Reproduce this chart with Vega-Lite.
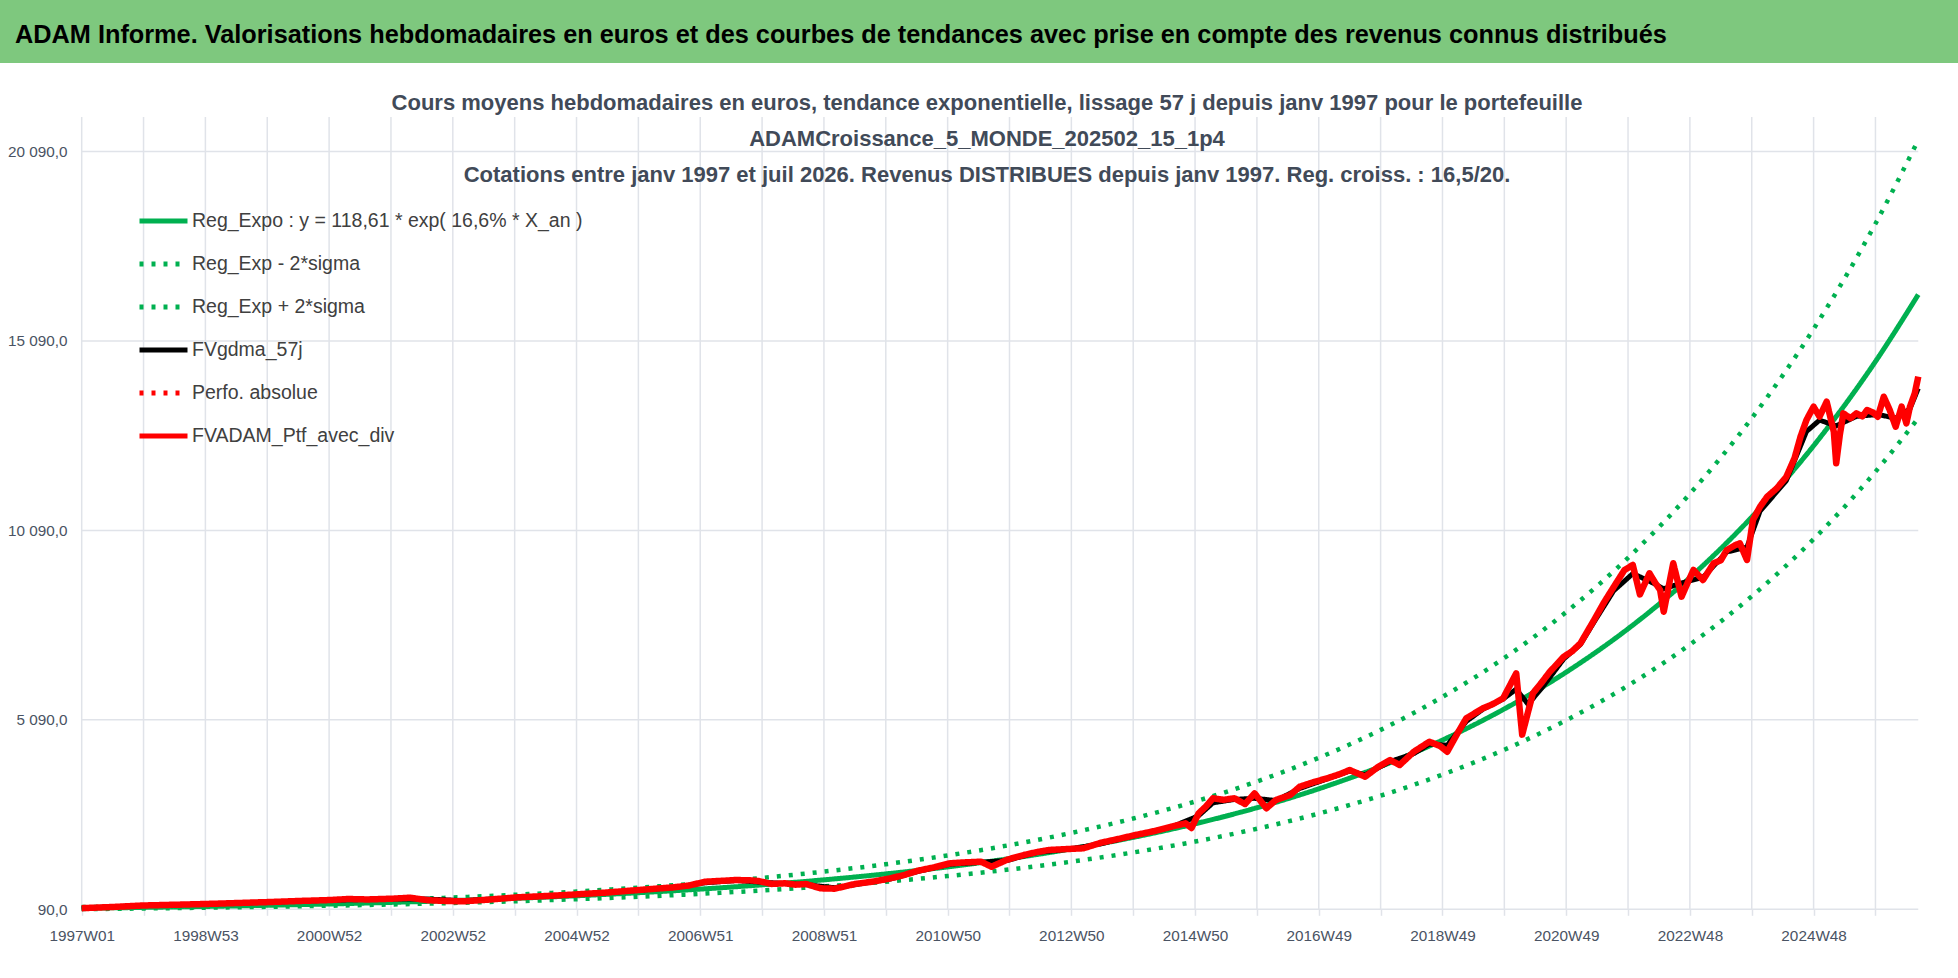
{
  "$schema": "https://vega.github.io/schema/vega-lite/v6.json",
  "padding": 0,
  "spacing": 0,
  "bounds": "flush",
  "background": "#ffffff",
  "config": {
    "font": "Liberation Sans",
    "view": {"stroke": null},
    "axis": {"labelFont": "Liberation Sans", "grid": false, "domain": false},
    "legend": {"labelFont": "Liberation Sans"}
  },
  "datasets": {
    "grilleY": [{"valeur": 90}, {"valeur": 5090}, {"valeur": 10090}, {"valeur": 15090}, {"valeur": 20090}],
    "grilleX": [
      {"semaine": 0}, {"semaine": 52}, {"semaine": 104}, {"semaine": 156}, {"semaine": 208}, {"semaine": 260},
      {"semaine": 312}, {"semaine": 364}, {"semaine": 416}, {"semaine": 468}, {"semaine": 520}, {"semaine": 572},
      {"semaine": 624}, {"semaine": 676}, {"semaine": 728}, {"semaine": 780}, {"semaine": 832}, {"semaine": 884},
      {"semaine": 936}, {"semaine": 988}, {"semaine": 1040}, {"semaine": 1092}, {"semaine": 1144}, {"semaine": 1196},
      {"semaine": 1248}, {"semaine": 1300}, {"semaine": 1352}, {"semaine": 1404}, {"semaine": 1456}, {"semaine": 1508}
    ],
    "series": [
      {"serie": "reg", "semaine": 0, "valeur": 118.6}, {"serie": "reg", "semaine": 52, "valeur": 140.0},
      {"serie": "reg", "semaine": 104, "valeur": 165.3}, {"serie": "reg", "semaine": 156, "valeur": 195.1},
      {"serie": "reg", "semaine": 208, "valeur": 230.3}, {"serie": "reg", "semaine": 260, "valeur": 271.8},
      {"serie": "reg", "semaine": 312, "valeur": 320.8}, {"serie": "reg", "semaine": 364, "valeur": 378.7},
      {"serie": "reg", "semaine": 416, "valeur": 447.0}, {"serie": "reg", "semaine": 468, "valeur": 527.6},
      {"serie": "reg", "semaine": 520, "valeur": 622.8}, {"serie": "reg", "semaine": 572, "valeur": 735.2},
      {"serie": "reg", "semaine": 624, "valeur": 867.8}, {"serie": "reg", "semaine": 676, "valeur": 1024.3},
      {"serie": "reg", "semaine": 728, "valeur": 1209.1}, {"serie": "reg", "semaine": 780, "valeur": 1427.2},
      {"serie": "reg", "semaine": 832, "valeur": 1684.6}, {"serie": "reg", "semaine": 884, "valeur": 1988.5},
      {"serie": "reg", "semaine": 936, "valeur": 2347.2}, {"serie": "reg", "semaine": 988, "valeur": 2770.6},
      {"serie": "reg", "semaine": 1040, "valeur": 3270.4}, {"serie": "reg", "semaine": 1092, "valeur": 3860.3},
      {"serie": "reg", "semaine": 1144, "valeur": 4556.6}, {"serie": "reg", "semaine": 1196, "valeur": 5378.5},
      {"serie": "reg", "semaine": 1248, "valeur": 6348.7}, {"serie": "reg", "semaine": 1300, "valeur": 7493.9},
      {"serie": "reg", "semaine": 1352, "valeur": 8845.6}, {"serie": "reg", "semaine": 1404, "valeur": 10441.1},
      {"serie": "reg", "semaine": 1456, "valeur": 12324.5}, {"serie": "reg", "semaine": 1508, "valeur": 14547.6},
      {"serie": "reg", "semaine": 1544, "valeur": 16314},
      {"serie": "moins", "semaine": 0, "valeur": 94.9}, {"serie": "moins", "semaine": 52, "valeur": 112.0},
      {"serie": "moins", "semaine": 104, "valeur": 132.2}, {"serie": "moins", "semaine": 156, "valeur": 156.1},
      {"serie": "moins", "semaine": 208, "valeur": 184.2}, {"serie": "moins", "semaine": 260, "valeur": 217.4},
      {"serie": "moins", "semaine": 312, "valeur": 256.6}, {"serie": "moins", "semaine": 364, "valeur": 303.0},
      {"serie": "moins", "semaine": 416, "valeur": 357.6}, {"serie": "moins", "semaine": 468, "valeur": 422.1},
      {"serie": "moins", "semaine": 520, "valeur": 498.2}, {"serie": "moins", "semaine": 572, "valeur": 588.2},
      {"serie": "moins", "semaine": 624, "valeur": 694.2}, {"serie": "moins", "semaine": 676, "valeur": 819.4},
      {"serie": "moins", "semaine": 728, "valeur": 967.3}, {"serie": "moins", "semaine": 780, "valeur": 1141.8},
      {"serie": "moins", "semaine": 832, "valeur": 1347.7}, {"serie": "moins", "semaine": 884, "valeur": 1590.8},
      {"serie": "moins", "semaine": 936, "valeur": 1877.8}, {"serie": "moins", "semaine": 988, "valeur": 2216.5},
      {"serie": "moins", "semaine": 1040, "valeur": 2616.3}, {"serie": "moins", "semaine": 1092, "valeur": 3088.2},
      {"serie": "moins", "semaine": 1144, "valeur": 3645.3}, {"serie": "moins", "semaine": 1196, "valeur": 4302.8},
      {"serie": "moins", "semaine": 1248, "valeur": 5079.0}, {"serie": "moins", "semaine": 1300, "valeur": 5995.1},
      {"serie": "moins", "semaine": 1352, "valeur": 7076.5}, {"serie": "moins", "semaine": 1404, "valeur": 8352.9},
      {"serie": "moins", "semaine": 1456, "valeur": 9859.6}, {"serie": "moins", "semaine": 1508, "valeur": 11638.1},
      {"serie": "moins", "semaine": 1544, "valeur": 13051},
      {"serie": "plus", "semaine": 0, "valeur": 148.3}, {"serie": "plus", "semaine": 52, "valeur": 175.0},
      {"serie": "plus", "semaine": 104, "valeur": 206.6}, {"serie": "plus", "semaine": 156, "valeur": 243.9},
      {"serie": "plus", "semaine": 208, "valeur": 287.9}, {"serie": "plus", "semaine": 260, "valeur": 339.8},
      {"serie": "plus", "semaine": 312, "valeur": 401.0}, {"serie": "plus", "semaine": 364, "valeur": 473.4},
      {"serie": "plus", "semaine": 416, "valeur": 558.8}, {"serie": "plus", "semaine": 468, "valeur": 659.5},
      {"serie": "plus", "semaine": 520, "valeur": 778.5}, {"serie": "plus", "semaine": 572, "valeur": 919.0},
      {"serie": "plus", "semaine": 624, "valeur": 1084.8}, {"serie": "plus", "semaine": 676, "valeur": 1280.4},
      {"serie": "plus", "semaine": 728, "valeur": 1511.4}, {"serie": "plus", "semaine": 780, "valeur": 1784.0},
      {"serie": "plus", "semaine": 832, "valeur": 2105.8}, {"serie": "plus", "semaine": 884, "valeur": 2485.6},
      {"serie": "plus", "semaine": 936, "valeur": 2934.0}, {"serie": "plus", "semaine": 988, "valeur": 3463.3},
      {"serie": "plus", "semaine": 1040, "valeur": 4088.0}, {"serie": "plus", "semaine": 1092, "valeur": 4825.4},
      {"serie": "plus", "semaine": 1144, "valeur": 5695.8}, {"serie": "plus", "semaine": 1196, "valeur": 6723.1},
      {"serie": "plus", "semaine": 1248, "valeur": 7935.9}, {"serie": "plus", "semaine": 1300, "valeur": 9367.4},
      {"serie": "plus", "semaine": 1352, "valeur": 11057.0}, {"serie": "plus", "semaine": 1404, "valeur": 13051.4},
      {"serie": "plus", "semaine": 1456, "valeur": 15405.6}, {"serie": "plus", "semaine": 1508, "valeur": 18184.5},
      {"serie": "plus", "semaine": 1544, "valeur": 20392},
      {"serie": "gdma", "semaine": 0, "valeur": 120}, {"serie": "gdma", "semaine": 52, "valeur": 190},
      {"serie": "gdma", "semaine": 104, "valeur": 228}, {"serie": "gdma", "semaine": 156, "valeur": 278},
      {"serie": "gdma", "semaine": 209, "valeur": 330}, {"serie": "gdma", "semaine": 261, "valeur": 365},
      {"serie": "gdma", "semaine": 291, "valeur": 360}, {"serie": "gdma", "semaine": 321, "valeur": 318},
      {"serie": "gdma", "semaine": 366, "valeur": 400}, {"serie": "gdma", "semaine": 411, "valeur": 470},
      {"serie": "gdma", "semaine": 468, "valeur": 590}, {"serie": "gdma", "semaine": 498, "valeur": 665},
      {"serie": "gdma", "semaine": 524, "valeur": 790}, {"serie": "gdma", "semaine": 550, "valeur": 850},
      {"serie": "gdma", "semaine": 580, "valeur": 790}, {"serie": "gdma", "semaine": 609, "valeur": 740},
      {"serie": "gdma", "semaine": 633, "valeur": 660}, {"serie": "gdma", "semaine": 650, "valeur": 740},
      {"serie": "gdma", "semaine": 680, "valeur": 890}, {"serie": "gdma", "semaine": 703, "valeur": 1090},
      {"serie": "gdma", "semaine": 730, "valeur": 1280}, {"serie": "gdma", "semaine": 756, "valeur": 1330},
      {"serie": "gdma", "semaine": 778, "valeur": 1380}, {"serie": "gdma", "semaine": 803, "valeur": 1590},
      {"serie": "gdma", "semaine": 828, "valeur": 1670}, {"serie": "gdma", "semaine": 857, "valeur": 1820},
      {"serie": "gdma", "semaine": 886, "valeur": 2040}, {"serie": "gdma", "semaine": 916, "valeur": 2260},
      {"serie": "gdma", "semaine": 939, "valeur": 2560}, {"serie": "gdma", "semaine": 951, "valeur": 2900},
      {"serie": "gdma", "semaine": 969, "valeur": 2990}, {"serie": "gdma", "semaine": 986, "valeur": 3020},
      {"serie": "gdma", "semaine": 1004, "valeur": 2960}, {"serie": "gdma", "semaine": 1024, "valeur": 3280},
      {"serie": "gdma", "semaine": 1047, "valeur": 3530}, {"serie": "gdma", "semaine": 1066, "valeur": 3740},
      {"serie": "gdma", "semaine": 1079, "valeur": 3640}, {"serie": "gdma", "semaine": 1100, "valeur": 3990},
      {"serie": "gdma", "semaine": 1120, "valeur": 4200}, {"serie": "gdma", "semaine": 1133, "valeur": 4450},
      {"serie": "gdma", "semaine": 1148, "valeur": 4420}, {"serie": "gdma", "semaine": 1164, "valeur": 5050},
      {"serie": "gdma", "semaine": 1178, "valeur": 5370}, {"serie": "gdma", "semaine": 1195, "valeur": 5640},
      {"serie": "gdma", "semaine": 1206, "valeur": 5900}, {"serie": "gdma", "semaine": 1216, "valeur": 5500},
      {"serie": "gdma", "semaine": 1228, "valeur": 5950}, {"serie": "gdma", "semaine": 1246, "valeur": 6700},
      {"serie": "gdma", "semaine": 1260, "valeur": 7080}, {"serie": "gdma", "semaine": 1271, "valeur": 7650},
      {"serie": "gdma", "semaine": 1288, "valeur": 8500}, {"serie": "gdma", "semaine": 1304, "valeur": 8950},
      {"serie": "gdma", "semaine": 1318, "valeur": 8750}, {"serie": "gdma", "semaine": 1330, "valeur": 8550},
      {"serie": "gdma", "semaine": 1345, "valeur": 8700}, {"serie": "gdma", "semaine": 1363, "valeur": 8850},
      {"serie": "gdma", "semaine": 1383, "valeur": 9520}, {"serie": "gdma", "semaine": 1400, "valeur": 9650},
      {"serie": "gdma", "semaine": 1411, "valeur": 10600}, {"serie": "gdma", "semaine": 1433, "valeur": 11400},
      {"serie": "gdma", "semaine": 1450, "valeur": 12700}, {"serie": "gdma", "semaine": 1461, "valeur": 13000},
      {"serie": "gdma", "semaine": 1475, "valeur": 12850}, {"serie": "gdma", "semaine": 1492, "valeur": 13100},
      {"serie": "gdma", "semaine": 1510, "valeur": 13150}, {"serie": "gdma", "semaine": 1525, "valeur": 13050},
      {"serie": "gdma", "semaine": 1537, "valeur": 13300}, {"serie": "gdma", "semaine": 1544, "valeur": 13840},
      {"serie": "ptf", "semaine": 0, "valeur": 120}, {"serie": "ptf", "semaine": 25, "valeur": 150},
      {"serie": "ptf", "semaine": 51, "valeur": 190}, {"serie": "ptf", "semaine": 78, "valeur": 210},
      {"serie": "ptf", "semaine": 104, "valeur": 230}, {"serie": "ptf", "semaine": 130, "valeur": 255},
      {"serie": "ptf", "semaine": 156, "valeur": 280}, {"serie": "ptf", "semaine": 183, "valeur": 310},
      {"serie": "ptf", "semaine": 209, "valeur": 335}, {"serie": "ptf", "semaine": 224, "valeur": 362},
      {"serie": "ptf", "semaine": 240, "valeur": 350}, {"serie": "ptf", "semaine": 261, "valeur": 370},
      {"serie": "ptf", "semaine": 276, "valeur": 396}, {"serie": "ptf", "semaine": 291, "valeur": 330},
      {"serie": "ptf", "semaine": 306, "valeur": 310}, {"serie": "ptf", "semaine": 321, "valeur": 300},
      {"serie": "ptf", "semaine": 344, "valeur": 350}, {"serie": "ptf", "semaine": 366, "valeur": 406},
      {"serie": "ptf", "semaine": 390, "valeur": 440}, {"serie": "ptf", "semaine": 411, "valeur": 475},
      {"serie": "ptf", "semaine": 440, "valeur": 530}, {"serie": "ptf", "semaine": 468, "valeur": 599},
      {"serie": "ptf", "semaine": 498, "valeur": 671}, {"serie": "ptf", "semaine": 511, "valeur": 720},
      {"serie": "ptf", "semaine": 524, "valeur": 818}, {"serie": "ptf", "semaine": 537, "valeur": 840},
      {"serie": "ptf", "semaine": 550, "valeur": 863}, {"serie": "ptf", "semaine": 562, "valeur": 855},
      {"serie": "ptf", "semaine": 569, "valeur": 837}, {"serie": "ptf", "semaine": 580, "valeur": 760},
      {"serie": "ptf", "semaine": 591, "valeur": 776}, {"serie": "ptf", "semaine": 600, "valeur": 740},
      {"serie": "ptf", "semaine": 609, "valeur": 758}, {"serie": "ptf", "semaine": 621, "valeur": 644},
      {"serie": "ptf", "semaine": 633, "valeur": 634}, {"serie": "ptf", "semaine": 650, "valeur": 758},
      {"serie": "ptf", "semaine": 665, "valeur": 820}, {"serie": "ptf", "semaine": 680, "valeur": 908},
      {"serie": "ptf", "semaine": 692, "valeur": 1000}, {"serie": "ptf", "semaine": 703, "valeur": 1109},
      {"serie": "ptf", "semaine": 717, "valeur": 1200}, {"serie": "ptf", "semaine": 730, "valeur": 1304},
      {"serie": "ptf", "semaine": 743, "valeur": 1330}, {"serie": "ptf", "semaine": 756, "valeur": 1346},
      {"serie": "ptf", "semaine": 765, "valeur": 1214}, {"serie": "ptf", "semaine": 778, "valeur": 1400},
      {"serie": "ptf", "semaine": 792, "valeur": 1523}, {"serie": "ptf", "semaine": 803, "valeur": 1600},
      {"serie": "ptf", "semaine": 813, "valeur": 1655}, {"serie": "ptf", "semaine": 828, "valeur": 1680},
      {"serie": "ptf", "semaine": 842, "valeur": 1700}, {"serie": "ptf", "semaine": 857, "valeur": 1848},
      {"serie": "ptf", "semaine": 872, "valeur": 1950}, {"serie": "ptf", "semaine": 886, "valeur": 2051},
      {"serie": "ptf", "semaine": 901, "valeur": 2150}, {"serie": "ptf", "semaine": 916, "valeur": 2270},
      {"serie": "ptf", "semaine": 928, "valeur": 2360}, {"serie": "ptf", "semaine": 933, "valeur": 2236},
      {"serie": "ptf", "semaine": 939, "valeur": 2624}, {"serie": "ptf", "semaine": 945, "valeur": 2800},
      {"serie": "ptf", "semaine": 951, "valeur": 3020}, {"serie": "ptf", "semaine": 960, "valeur": 2980},
      {"serie": "ptf", "semaine": 969, "valeur": 3020}, {"serie": "ptf", "semaine": 978, "valeur": 2869},
      {"serie": "ptf", "semaine": 986, "valeur": 3151}, {"serie": "ptf", "semaine": 996, "valeur": 2756},
      {"serie": "ptf", "semaine": 1004, "valeur": 2975}, {"serie": "ptf", "semaine": 1016, "valeur": 3107},
      {"serie": "ptf", "semaine": 1024, "valeur": 3326}, {"serie": "ptf", "semaine": 1036, "valeur": 3450},
      {"serie": "ptf", "semaine": 1047, "valeur": 3547}, {"serie": "ptf", "semaine": 1057, "valeur": 3650},
      {"serie": "ptf", "semaine": 1066, "valeur": 3766}, {"serie": "ptf", "semaine": 1079, "valeur": 3590},
      {"serie": "ptf", "semaine": 1090, "valeur": 3850}, {"serie": "ptf", "semaine": 1100, "valeur": 4030},
      {"serie": "ptf", "semaine": 1108, "valeur": 3898}, {"serie": "ptf", "semaine": 1120, "valeur": 4250},
      {"serie": "ptf", "semaine": 1133, "valeur": 4513}, {"serie": "ptf", "semaine": 1142, "valeur": 4400},
      {"serie": "ptf", "semaine": 1148, "valeur": 4249}, {"serie": "ptf", "semaine": 1156, "valeur": 4700},
      {"serie": "ptf", "semaine": 1164, "valeur": 5131}, {"serie": "ptf", "semaine": 1178, "valeur": 5395},
      {"serie": "ptf", "semaine": 1186, "valeur": 5500}, {"serie": "ptf", "semaine": 1195, "valeur": 5659},
      {"serie": "ptf", "semaine": 1206, "valeur": 6319}, {"serie": "ptf", "semaine": 1211, "valeur": 4700},
      {"serie": "ptf", "semaine": 1220, "valeur": 5790}, {"serie": "ptf", "semaine": 1228, "valeur": 6100},
      {"serie": "ptf", "semaine": 1234, "valeur": 6350}, {"serie": "ptf", "semaine": 1246, "valeur": 6757},
      {"serie": "ptf", "semaine": 1253, "valeur": 6900}, {"serie": "ptf", "semaine": 1260, "valeur": 7110},
      {"serie": "ptf", "semaine": 1271, "valeur": 7700}, {"serie": "ptf", "semaine": 1280, "valeur": 8200},
      {"serie": "ptf", "semaine": 1288, "valeur": 8600}, {"serie": "ptf", "semaine": 1297, "valeur": 9045},
      {"serie": "ptf", "semaine": 1304, "valeur": 9177}, {"serie": "ptf", "semaine": 1310, "valeur": 8400},
      {"serie": "ptf", "semaine": 1318, "valeur": 8958}, {"serie": "ptf", "semaine": 1323, "valeur": 8700},
      {"serie": "ptf", "semaine": 1327, "valeur": 8517}, {"serie": "ptf", "semaine": 1330, "valeur": 7944},
      {"serie": "ptf", "semaine": 1338, "valeur": 9222}, {"serie": "ptf", "semaine": 1345, "valeur": 8340},
      {"serie": "ptf", "semaine": 1350, "valeur": 8700}, {"serie": "ptf", "semaine": 1355, "valeur": 9045},
      {"serie": "ptf", "semaine": 1363, "valeur": 8781}, {"serie": "ptf", "semaine": 1372, "valeur": 9222},
      {"serie": "ptf", "semaine": 1378, "valeur": 9300}, {"serie": "ptf", "semaine": 1383, "valeur": 9573},
      {"serie": "ptf", "semaine": 1390, "valeur": 9700}, {"serie": "ptf", "semaine": 1394, "valeur": 9749},
      {"serie": "ptf", "semaine": 1400, "valeur": 9309}, {"serie": "ptf", "semaine": 1405, "valeur": 10365},
      {"serie": "ptf", "semaine": 1411, "valeur": 10716}, {"serie": "ptf", "semaine": 1417, "valeur": 10980},
      {"serie": "ptf", "semaine": 1425, "valeur": 11200}, {"serie": "ptf", "semaine": 1433, "valeur": 11500},
      {"serie": "ptf", "semaine": 1440, "valeur": 12000}, {"serie": "ptf", "semaine": 1445, "valeur": 12563},
      {"serie": "ptf", "semaine": 1450, "valeur": 13004}, {"serie": "ptf", "semaine": 1456, "valeur": 13355},
      {"serie": "ptf", "semaine": 1461, "valeur": 13091}, {"serie": "ptf", "semaine": 1467, "valeur": 13487},
      {"serie": "ptf", "semaine": 1473, "valeur": 12695}, {"serie": "ptf", "semaine": 1475, "valeur": 11861},
      {"serie": "ptf", "semaine": 1478, "valeur": 12600}, {"serie": "ptf", "semaine": 1481, "valeur": 13179},
      {"serie": "ptf", "semaine": 1487, "valeur": 13050}, {"serie": "ptf", "semaine": 1492, "valeur": 13179},
      {"serie": "ptf", "semaine": 1497, "valeur": 13100}, {"serie": "ptf", "semaine": 1501, "valeur": 13268},
      {"serie": "ptf", "semaine": 1506, "valeur": 13200}, {"serie": "ptf", "semaine": 1510, "valeur": 13091},
      {"serie": "ptf", "semaine": 1515, "valeur": 13618}, {"serie": "ptf", "semaine": 1520, "valeur": 13268},
      {"serie": "ptf", "semaine": 1525, "valeur": 12827}, {"serie": "ptf", "semaine": 1530, "valeur": 13355},
      {"serie": "ptf", "semaine": 1534, "valeur": 12916}, {"serie": "ptf", "semaine": 1537, "valeur": 13355},
      {"serie": "ptf", "semaine": 1541, "valeur": 13700}, {"serie": "ptf", "semaine": 1544, "valeur": 14147}
    ]
  },
  "vconcat": [
    {
      "width": 1958,
      "height": 63,
      "view": {"fill": "#7ec87e", "stroke": null},
      "title": {
        "text": "ADAM Informe. Valorisations hebdomadaires en euros et des courbes de tendances avec prise en compte des revenus connus distribués",
        "orient": "top", "anchor": "start", "frame": "group", "offset": -68.5, "baseline": "alphabetic", "dx": 15,
        "font": "Liberation Sans", "fontSize": 25.3, "fontWeight": "bold", "color": "#000000"
      },
      "data": {"values": []},
      "mark": "rect"
    },
    {
      "width": 1958,
      "height": 915,
      "view": {"fill": "#ffffff", "stroke": null},
      "title": {
        "text": [
          "Cours moyens hebdomadaires  en euros, tendance exponentielle, lissage 57 j depuis janv 1997 pour le portefeuille",
          "ADAMCroissance_5_MONDE_202502_15_1p4",
          "Cotations entre janv 1997 et juil 2026. Revenus DISTRIBUES depuis janv 1997. Reg. croiss. : 16,5/20."
        ],
        "orient": "top", "anchor": "middle", "frame": "group", "offset": -123.5, "baseline": "top", "dx": 8,
        "lineHeight": 36, "font": "Liberation Sans", "fontSize": 22, "fontWeight": "bold", "color": "#414a58"
      },
      "layer": [
        {
          "data": {"name": "grilleY"},
          "mark": {"type": "rule", "color": "#e0e3e9", "strokeWidth": 1.5},
          "encoding": {
            "y": {
              "field": "valeur", "type": "quantitative",
              "scale": {"domain": [-1723, 22426], "nice": false, "zero": false},
              "axis": {
                "orient": "left", "offset": -82, "values": [90, 5090, 10090, 15090, 20090],
                "labelExpr": "replace(replace(format(datum.value, ',.1f'), ',', ' '), '.', ',')",
                "ticks": false, "tickSize": 0, "labelPadding": 15, "labelFontSize": 15.3, "labelColor": "#4a5363",
                "labelOverlap": false, "labelFlush": false, "title": null
              }
            },
            "x": {"datum": 0, "type": "quantitative", "title": null, "scale": {"domain": [-68.68, 1577.4], "nice": false, "zero": false}},
            "x2": {"datum": 1544}
          }
        },
        {
          "data": {"name": "grilleX"},
          "mark": {"type": "rule", "color": "#e0e3e9", "strokeWidth": 1.5},
          "encoding": {
            "x": {
              "field": "semaine", "type": "quantitative",
              "scale": {"domain": [-68.68, 1577.4], "nice": false, "zero": false},
              "axis": {
                "orient": "bottom", "offset": -68.7,
                "values": [0, 52, 104, 156, 208, 260, 312, 364, 416, 468, 520, 572, 624, 676, 728, 780, 832, 884, 936, 988, 1040, 1092, 1144, 1196, 1248, 1300, 1352, 1404, 1456, 1508],
                "labelExpr": "datum.value % 104 == 0 ? ['1997W01','1998W53','2000W52','2002W52','2004W52','2006W51','2008W51','2010W50','2012W50','2014W50','2016W49','2018W49','2020W49','2022W48','2024W48'][datum.value / 104] : ''",
                "ticks": true, "tickSize": 6, "tickColor": "#e0e3e9", "tickWidth": 1.5,
                "labelPadding": 13, "labelFontSize": 15.3, "labelColor": "#4a5363",
                "labelOverlap": false, "labelFlush": false, "title": null
              }
            },
            "y": {"datum": 90, "type": "quantitative", "title": null, "scale": {"domain": [-1723, 22426], "nice": false, "zero": false}},
            "y2": {"datum": 21000}
          }
        },
        {
          "data": {"name": "series"},
          "transform": [{"filter": {"field": "serie", "oneOf": ["moins", "plus"]}}],
          "mark": {"type": "line", "strokeWidth": 4.5, "interpolate": "monotone"},
          "encoding": {
            "x": {"field": "semaine", "type": "quantitative", "title": null, "scale": {"domain": [-68.68, 1577.4], "nice": false, "zero": false}},
            "y": {"field": "valeur", "type": "quantitative", "title": null, "scale": {"domain": [-1723, 22426], "nice": false, "zero": false}},
            "color": {
              "field": "serie", "type": "nominal",
              "scale": {"domain": ["reg", "moins", "plus", "gdma", "perfo", "ptf"], "range": ["#00b050", "#00b050", "#00b050", "#000000", "#ff0000", "#ff0000"]},
              "legend": {
                "title": null, "orient": "none", "legendX": 137, "legendY": 194.5, "padding": 0,
                "symbolType": "stroke", "symbolSize": 2304, "symbolStrokeWidth": 5,
                "labelFontSize": 19.5, "labelColor": "#404040", "labelLimit": 800, "labelOffset": 2, "rowPadding": 6,
                "labelExpr": "datum.label == 'reg' ? 'Reg_Expo : y = 118,61 * exp( 16,6% *  X_an )' : datum.label == 'moins' ? 'Reg_Exp - 2*sigma' : datum.label == 'plus' ? 'Reg_Exp + 2*sigma' : datum.label == 'gdma' ? 'FVgdma_57j' : datum.label == 'perfo' ? 'Perfo. absolue' : 'FVADAM_Ptf_avec_div'"
              }
            },
            "strokeDash": {
              "field": "serie", "type": "nominal",
              "scale": {"domain": ["reg", "moins", "plus", "gdma", "perfo", "ptf"], "range": [[1, 0], [4, 8], [4, 8], [1, 0], [4, 8], [1, 0]]},
              "legend": {
                "title": null, "orient": "none", "legendX": 137, "legendY": 194.5, "padding": 0,
                "symbolType": "stroke", "symbolSize": 2304, "symbolStrokeWidth": 5,
                "labelFontSize": 19.5, "labelColor": "#404040", "labelLimit": 800, "labelOffset": 2, "rowPadding": 6,
                "labelExpr": "datum.label == 'reg' ? 'Reg_Expo : y = 118,61 * exp( 16,6% *  X_an )' : datum.label == 'moins' ? 'Reg_Exp - 2*sigma' : datum.label == 'plus' ? 'Reg_Exp + 2*sigma' : datum.label == 'gdma' ? 'FVgdma_57j' : datum.label == 'perfo' ? 'Perfo. absolue' : 'FVADAM_Ptf_avec_div'"
              }
            }
          }
        },
        {
          "data": {"name": "series"},
          "transform": [{"filter": {"field": "serie", "equal": "reg"}}],
          "mark": {"type": "line", "strokeWidth": 5, "interpolate": "monotone"},
          "encoding": {
            "x": {"field": "semaine", "type": "quantitative", "title": null, "scale": {"domain": [-68.68, 1577.4], "nice": false, "zero": false}},
            "y": {"field": "valeur", "type": "quantitative", "title": null, "scale": {"domain": [-1723, 22426], "nice": false, "zero": false}},
            "color": {"field": "serie", "type": "nominal"},
            "strokeDash": {"field": "serie", "type": "nominal"}
          }
        },
        {
          "data": {"name": "series"},
          "transform": [{"filter": {"field": "serie", "equal": "gdma"}}],
          "mark": {"type": "line", "strokeWidth": 5},
          "encoding": {
            "x": {"field": "semaine", "type": "quantitative", "title": null, "scale": {"domain": [-68.68, 1577.4], "nice": false, "zero": false}},
            "y": {"field": "valeur", "type": "quantitative", "title": null, "scale": {"domain": [-1723, 22426], "nice": false, "zero": false}},
            "color": {"field": "serie", "type": "nominal"},
            "strokeDash": {"field": "serie", "type": "nominal"}
          }
        },
        {
          "data": {"name": "series"},
          "transform": [{"filter": {"field": "serie", "equal": "ptf"}}],
          "mark": {"type": "line", "strokeWidth": 6.5, "strokeJoin": "round"},
          "encoding": {
            "x": {"field": "semaine", "type": "quantitative", "title": null, "scale": {"domain": [-68.68, 1577.4], "nice": false, "zero": false}},
            "y": {"field": "valeur", "type": "quantitative", "title": null, "scale": {"domain": [-1723, 22426], "nice": false, "zero": false}},
            "color": {"field": "serie", "type": "nominal"},
            "strokeDash": {"field": "serie", "type": "nominal"}
          }
        }
      ]
    }
  ]
}
